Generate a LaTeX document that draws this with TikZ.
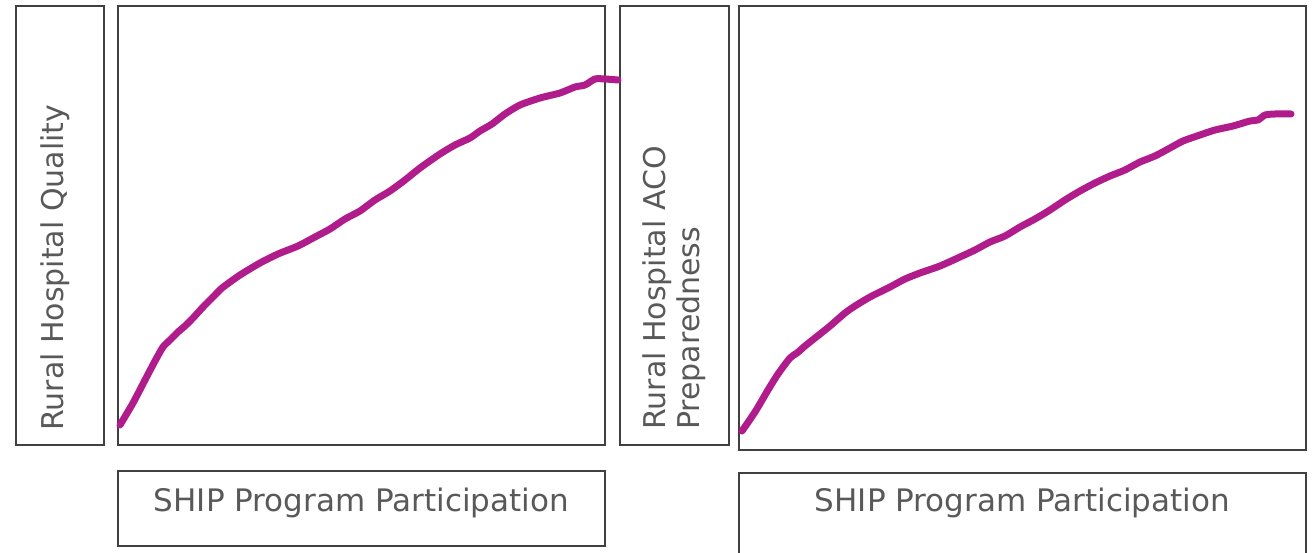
\documentclass[tikz,border=0pt]{standalone}
\usepackage{fontspec}
\setmainfont{DejaVu Sans}
\definecolor{boxline}{HTML}{404040}
\definecolor{txt}{HTML}{595959}
\definecolor{curve}{RGB}{176,28,140}
\begin{document}
\begin{tikzpicture}[x=1pt,y=-1pt,
  frame/.style={draw=boxline,line width=1.8pt,inner sep=0pt,anchor=north west},
  lab/.style={text=txt,inner sep=0pt},
  ylabfont/.style={font=\fontsize{30}{34}\selectfont},
  xlabfont/.style={font=\fontsize{31}{36}\selectfont},
  trend/.style={draw=curve,line width=7pt,line cap=round,line join=round}]
\useasboundingbox (0,0) rectangle (1314,553);
% left panel
\node[frame,minimum width=88pt,minimum height=439pt] (ybox1) at (15,5) {};
\node[frame,minimum width=487pt,minimum height=439pt] (plot1) at (117,5) {};
\node[frame,minimum width=487pt,minimum height=75pt] (xbox1) at (117,470) {};
\node[lab,ylabfont,rotate=90,anchor=west] (ylab1) at (55,431) {Rural Hospital Quality};
\node[lab,xlabfont,anchor=base] (xlab1) at (xbox1.center |- 0,511.5) {SHIP Program Participation};
% right panel
\node[frame,minimum width=109pt,minimum height=439pt] (ybox2) at (619,5) {};
\node[frame,minimum width=567pt,minimum height=444pt] (plot2) at (738,5) {};
\node[frame,minimum width=567pt,minimum height=100pt] (xbox2) at (738,472) {};
\node[lab,ylabfont,rotate=90,anchor=west,align=left] (ylab2) at (674,430) {Rural Hospital ACO\\Preparedness};
\node[lab,xlabfont,anchor=base] (xlab2) at (xbox2.center |- 0,511.5) {SHIP Program Participation};
% curves
\draw[trend] plot[smooth,tension=0.4] coordinates {
 (120,425) (133,403) (145,380) (155,361) (163,347) (170,340) (178,332) (185,326)
 (193,318) (204,306) (215,295) (222,288) (240,275) (260,263) (278,254) (298,246)
 (315,237) (330,229) (345,219) (360,211) (375,200) (390,191) (405,180) (420,168)
 (440,154) (455,145) (470,138) (480,131) (492,124) (505,114) (520,105) (540,98)
 (560,93) (575,87) (585,85) (595,79) (605,79) (618,80)};
\draw[trend] plot[smooth,tension=0.4] coordinates {
 (742,431) (755,412) (768,390) (778,374) (790,358) (797,353) (805,346) (815,338)
 (830,326) (845,313) (855,306) (870,297) (890,287) (905,279) (920,273) (940,266)
 (960,257) (975,250) (990,242) (1005,236) (1020,227) (1035,219) (1050,210) (1065,200)
 (1080,191) (1095,183) (1110,176) (1125,170) (1140,162) (1155,156) (1170,148)
 (1183,141) (1200,135) (1215,130) (1233,126) (1250,121) (1258,120) (1265,115)
 (1275,114) (1291,114)};
\end{tikzpicture}
\end{document}
